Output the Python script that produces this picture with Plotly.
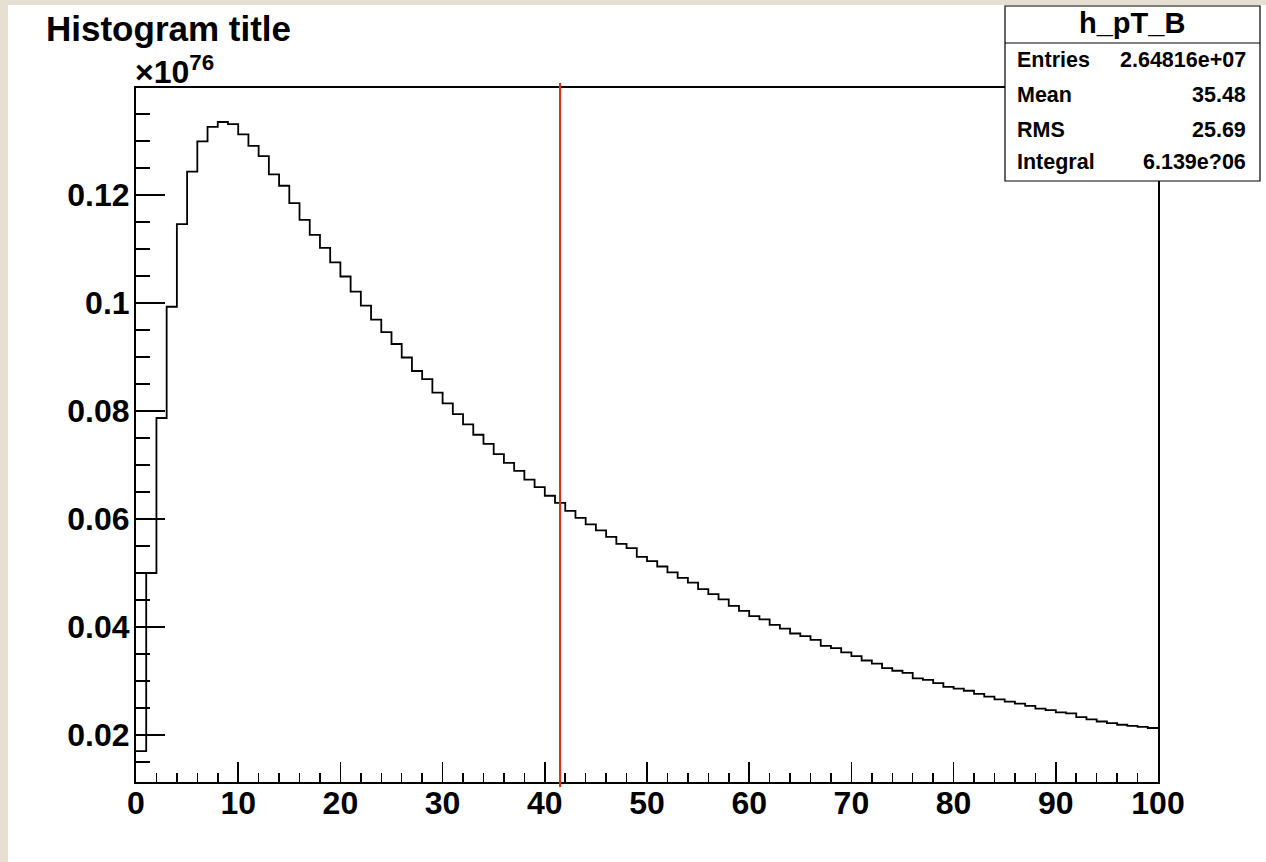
import plotly.graph_objects as go

# ---------------- data ----------------
hist_name = "h_pT_B"
title_text = "Histogram title"
bin_low = 0
bin_width = 1
# bin contents in units of 1e76
bin_contents = [
    0.0170, 0.0500, 0.0787, 0.0993, 0.1146, 0.1243, 0.1299, 0.1326, 0.1335, 0.1331,
    0.1312, 0.1291, 0.1272, 0.1238, 0.1217, 0.1185, 0.1154, 0.1126, 0.1102, 0.1075,
    0.1049, 0.1021, 0.0995, 0.0969, 0.0946, 0.0924, 0.0899, 0.0874, 0.0859, 0.0834,
    0.0814, 0.0794, 0.0775, 0.0756, 0.0739, 0.0720, 0.0704, 0.0689, 0.0673, 0.0659,
    0.0643, 0.0630, 0.0615, 0.0602, 0.0590, 0.0579, 0.0567, 0.0554, 0.0546, 0.0530,
    0.0522, 0.0512, 0.0501, 0.0491, 0.0482, 0.0470, 0.0461, 0.0451, 0.0439, 0.0430,
    0.0420, 0.0414, 0.0404, 0.0397, 0.0388, 0.0383, 0.0376, 0.0365, 0.0361, 0.0353,
    0.0346, 0.0338, 0.0332, 0.0324, 0.0319, 0.0315, 0.0305, 0.0302, 0.0296, 0.0289,
    0.0286, 0.0282, 0.0276, 0.0271, 0.0266, 0.0262, 0.0258, 0.0254, 0.0249, 0.0246,
    0.0242, 0.0240, 0.0233, 0.0229, 0.0225, 0.0222, 0.0219, 0.0217, 0.0215, 0.0213,
]
marker_line_x = 41.5
y_exponent = "76"
y_tick_values = [0.02, 0.04, 0.06, 0.08, 0.10, 0.12]
y_tick_labels = ["0.02", "0.04", "0.06", "0.08", "0.1", "0.12"]
x_tick_values = [0, 10, 20, 30, 40, 50, 60, 70, 80, 90, 100]
x_tick_labels = ["0", "10", "20", "30", "40", "50", "60", "70", "80", "90", "100"]
stats_labels = ["Entries", "Mean", "RMS", "Integral"]
stats_values = ["2.64816e+07", "35.48", "25.69", "6.139e?06"]

# ---------------- figure ----------------
W, H = 1266, 862
L, R, T, B = 136, 108, 88, 80
pw, ph = W - L - R, H - T - B
BEIGE = "#e7dfd2"

def px(x):
    return (x - L) / pw

def py(y):
    return (H - B - y) / ph

edges = [bin_low + i * bin_width for i in range(len(bin_contents) + 1)]
yvals = bin_contents + [bin_contents[-1]]

FONT = "Liberation Sans, Arial, Helvetica, sans-serif"

fig = go.Figure()
fig.add_trace(go.Scatter(
    x=edges, y=yvals, mode="lines", line=dict(shape="hv", color="black", width=1.8),
    hoverinfo="skip", showlegend=False,
))

shapes = [
    # white canvas over beige texture
    dict(type="rect", xref="paper", yref="paper", x0=px(8), x1=px(W + 5), y0=py(H + 5), y1=py(5),
         fillcolor="white", line=dict(width=0), layer="below"),
    # red vertical line
    dict(type="line", xref="x", yref="paper", x0=marker_line_x, x1=marker_line_x, y0=py(787), y1=py(83),
         line=dict(color="#d8301c", width=2.2), layer="above"),
    # stats box
    dict(type="rect", xref="paper", yref="paper", x0=px(1005), x1=px(1260), y0=py(181), y1=py(6),
         fillcolor="white", line=dict(color="black", width=1.2), layer="above"),
    dict(type="line", xref="paper", yref="paper", x0=px(1005), x1=px(1260), y0=py(43), y1=py(43),
         line=dict(color="black", width=1.2), layer="above"),
]

ann = [
    dict(text=title_text, x=px(44), y=py(28), xanchor="left", yanchor="middle",
         font=dict(family=FONT, size=35, color="black", weight="bold")),
    dict(text="×10<sup>" + y_exponent + "</sup>", x=px(133), y=py(70), xanchor="left", yanchor="middle",
         font=dict(family=FONT, size=32, color="black", weight="bold")),
    dict(text=hist_name, x=px(1132), y=py(23), xanchor="center", yanchor="middle",
         font=dict(family=FONT, size=29, color="black", weight="bold")),
]
row_y = [60, 95, 130, 162]
for lab, val, yy in zip(stats_labels, stats_values, row_y):
    ann.append(dict(text=lab, x=px(1015), y=py(yy), xanchor="left", yanchor="middle",
                    font=dict(family=FONT, size=21.5, color="black", weight="bold")))
    ann.append(dict(text=val, x=px(1248), y=py(yy), xanchor="right", yanchor="middle",
                    font=dict(family=FONT, size=21.5, color="black", weight="bold")))
for a in ann:
    a.update(xref="paper", yref="paper", showarrow=False)

fig.update_layout(
    width=W, height=H, autosize=False,
    margin=dict(l=L, r=R, t=T, b=B, pad=0),
    paper_bgcolor=BEIGE, plot_bgcolor="white",
    shapes=shapes, annotations=ann, showlegend=False,
)
fig.update_xaxes(
    range=[edges[0], edges[-1]], tickmode="array", tickvals=x_tick_values, ticktext=x_tick_labels,
    ticks="inside", ticklen=20, tickwidth=1.5, tickcolor="black",
    minor=dict(dtick=2, tick0=0, ticks="inside", ticklen=9, tickwidth=1.5, tickcolor="black", showgrid=False),
    showgrid=False, zeroline=False, showline=True, mirror=True, linecolor="black", linewidth=2,
    tickfont=dict(family=FONT, size=32, color="black", weight="bold"), ticklabelstandoff=-8,
)
fig.update_yaxes(
    range=[0.0113, 0.1398], tickmode="array", tickvals=y_tick_values, ticktext=y_tick_labels,
    ticks="inside", ticklen=29, tickwidth=1.5, tickcolor="black",
    minor=dict(dtick=0.005, tick0=0, ticks="inside", ticklen=14, tickwidth=1.5, tickcolor="black", showgrid=False),
    showgrid=False, zeroline=False, showline=True, mirror=True, linecolor="black", linewidth=2,
    tickfont=dict(family=FONT, size=32, color="black", weight="bold"), ticklabelstandoff=-2,
)

fig.write_html(
    "out.html",
    config={"displayModeBar": False, "staticPlot": True},
    post_script=(
        "document.body.style.margin='0px';document.body.style.padding='0px';"
        "document.body.style.background='" + BEIGE + "';"
        "document.documentElement.style.overflow='hidden';"
    ),
)
